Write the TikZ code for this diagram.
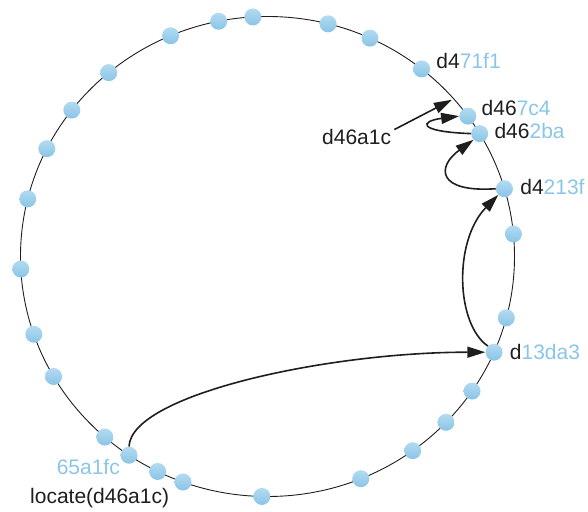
\documentclass[tikz,border=0pt]{standalone}
\usepackage{fontspec}
\setmainfont{Liberation Sans}
\usetikzlibrary{arrows.meta}
\usepackage{xcolor}
\definecolor{ringtop}{HTML}{B2DBF1}
\definecolor{ringbot}{HTML}{8AC4E6}
\definecolor{idblue}{HTML}{8AC6E8}
\definecolor{inkgray}{HTML}{1E1E1E}

\begin{document}
\begin{tikzpicture}[x=1pt, y=1pt, font=\fontsize{21}{25}\selectfont, text=inkgray,
    peer/.style={circle, minimum size=17pt, inner sep=0pt,
      top color=ringtop, bottom color=ringbot},
    tag/.style={inner sep=0pt, anchor=base west},
    hop/.style={inkgray, line width=1.6pt, -{Triangle[length=18pt, width=11pt]}}]
    \useasboundingbox (-267.5,-254.5) rectangle (320.5,256.5);
    % identifier ring
    \draw[inkgray, line width=0.9pt] (0,0) ellipse [x radius=247pt, y radius=240pt];
    \foreach \ang [count=\i] in {93.4,75.8,65.5,51.4,35.8,30.8,16.4,5.4,-14.8,-23.5,
        -34.1,-43.7,-54,-67.8,-91.3,-110,-116.4,-124.1,-131.2,-150,-161.1,-177,
        166.1,153.3,142.4,130,113.1,101.4}
      \node[peer] (p\i) at (\ang:247pt and 240pt) {};
    \coordinate (key) at (41.2:245pt and 238pt);
    % node identifiers
    \node[tag] (t4) at ([xshift=6pt]p4.east) {d4\textcolor{idblue}{71f1}};
    \node[tag] (t5) at ([xshift=5pt, yshift=1pt]p5.east) {d46\textcolor{idblue}{7c4}};
    \node[tag] (t6) at ([xshift=6pt, yshift=-5pt]p6.east) {d46\textcolor{idblue}{2ba}};
    \node[tag] (t7) at ([xshift=7pt, yshift=-6pt]p7.east) {d4\textcolor{idblue}{213f}};
    \node[tag] (t10) at ([xshift=7pt, yshift=-7pt]p10.east) {d\textcolor{idblue}{13da3}};
    \node[tag, anchor=base east, text=idblue] (t18) at ([xshift=-9pt, yshift=-19pt]p18.center) {65a1fc};
    \node[tag] (query) at (-237.5,-246.5) {locate(d46a1c)};
    \node[tag] (lookup) at (54.5,111.5) {d46a1c};
    % lookup hops
    \draw[hop] (p18.north) .. controls +(2,52) and +(-158,0) .. (p10.west);
    \draw[hop] (p10.north west) .. controls +(-32,22) and +(-45,-46) .. (p7.south west);
    \draw[hop] (p7.west) .. controls +(-59,-4) and +(-37,-27) .. (p6.south west);
    \draw[hop] (p6.west) .. controls +(-55,2) and +(-39,-5) .. (p5.west);
    \draw[hop] ([xshift=3pt]lookup.north east) -- (key);
\end{tikzpicture}
\end{document}
